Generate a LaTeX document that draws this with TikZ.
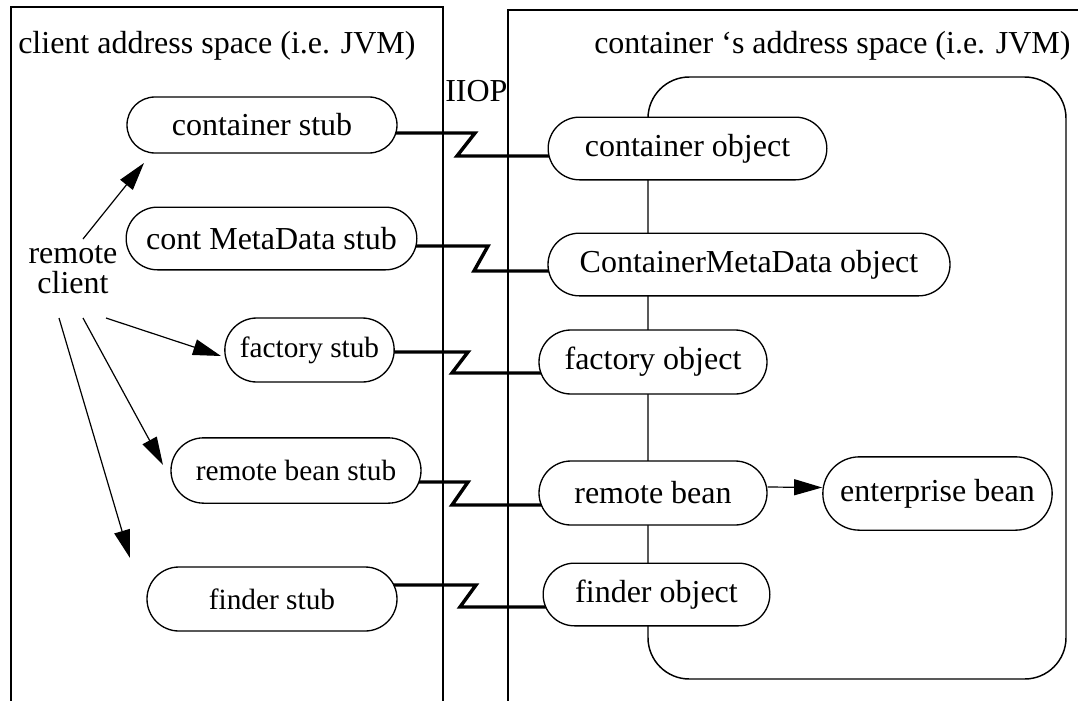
\documentclass[tikz,border=0pt]{standalone}
\usepackage{fontspec}
\setmainfont{Liberation Serif}
\usetikzlibrary{shapes.misc,arrows.meta,backgrounds,calc}
\begin{document}
\begin{tikzpicture}[x=0.75pt,y=-0.75pt,
  pill/.style={draw,rounded rectangle,fill=white,line width=1pt,inner sep=0pt,font=\fontsize{24}{28}\selectfont},
  small/.style={font=\fontsize{22}{26}\selectfont},
  lbl/.style={inner sep=0pt,font=\fontsize{24}{28}\selectfont},
  frame/.style={draw,line width=1.1pt},
  iiop/.style={line width=2.6pt,line join=miter},
  arr/.style={line width=0.9pt,-{Triangle[length=21pt,width=12pt]}}
]
\useasboundingbox (0,0) rectangle (1078,700);
\clip (0,0) rectangle (1078,700);

% labels
\node[lbl,anchor=base west] (tl) at (18,53) {client address space (i.e. JVM)};
\node[lbl,anchor=base west] (tr) at (594,53) {container ‘s address space (i.e. JVM)};
\node[lbl,anchor=base west] (ii) at (445,101) {IIOP};
\node[lbl,align=center,font=\fontsize{24}{22.5}\selectfont] (rc) at (73,270) {remote\\client};

% client stubs
\node[pill,minimum width=202.5pt,minimum height=42pt] (cs) at (262,125) {container stub};
\node[pill,minimum width=218pt,minimum height=47pt] (cms) at (271.5,238.5) {cont MetaData stub};
\node[pill,small,minimum width=127pt,minimum height=48pt] (fs) at (309.5,350) {factory stub};
\node[pill,small,minimum width=187.5pt,minimum height=49pt] (rbs) at (296,470.5) {remote bean stub};
\node[pill,small,minimum width=187.5pt,minimum height=48pt] (fns) at (272,599) {finder stub};

% container objects
\node[pill,minimum width=209pt,minimum height=47pt] (co) at (687.5,148.5) {container object};
\node[pill,minimum width=301.5pt,minimum height=47pt] (cmo) at (749,264.5) {ContainerMetaData object};
\node[pill,minimum width=171pt,minimum height=48pt] (fo) at (653,362) {factory object};
\node[pill,minimum width=171pt,minimum height=48pt] (rb) at (653,493) {remote bean};
\node[pill,minimum width=172pt,minimum height=55pt] (eb) at (937.5,493.5) {enterprise bean};
\node[pill,minimum width=170pt,minimum height=47pt] (fno) at (656.5,594.5) {finder object};

% zigzag corner points
\coordinate (a1) at (475,133); \coordinate (b1) at (457,156);
\coordinate (a2) at (488,246); \coordinate (b2) at (474,271);
\coordinate (a3) at (468,352); \coordinate (b3) at (452,373);
\coordinate (a4) at (468,482); \coordinate (b4) at (452,505);
\coordinate (a5) at (476,585); \coordinate (b5) at (460,607);

\begin{pgfonlayer}{background}
  \draw[frame] (11,7) rectangle (443,720);
  \draw[frame] (508,10) rectangle (1100,720);
  \draw[frame,rounded corners=31pt] (648,77) rectangle (1066,679);
  \draw[iiop] ($(cs.center)+(0,8)$) -- (a1) -- (b1) -- ($(co.center)+(0,7.5)$);
  \draw[iiop] ($(cms.center)+(0,7.5)$) -- (a2) -- (b2) -- ($(cmo.center)+(0,6.5)$);
  \draw[iiop] ($(fs.center)+(0,2)$) -- (a3) -- (b3) -- ($(fo.center)+(0,11)$);
  \draw[iiop] ($(rbs.center)+(0,11.5)$) -- (a4) -- (b4) -- ($(rb.center)+(0,12)$);
  \draw[iiop] ($(fns.center)+(0,-14)$) -- (a5) -- (b5) -- ($(fno.center)+(0,12.5)$);
\end{pgfonlayer}

% arrows from remote client
\coordinate (s1) at (83,239);  \coordinate (t1) at (144,163);
\coordinate (s2) at (106,318); \coordinate (t2) at (221,356);
\coordinate (s3) at (83,318);  \coordinate (t3) at (163,465);
\coordinate (s4) at (59,318);  \coordinate (t4) at (130,558);
\draw[arr] (s1) -- (t1);
\draw[arr] (s2) -- (t2);
\draw[arr] (s3) -- (t3);
\draw[arr] (s4) -- (t4);
\draw[arr] ($(rb.east)+(0,-6)$) -- ($(eb.west)+(0,-6)$);
\end{tikzpicture}
\end{document}
